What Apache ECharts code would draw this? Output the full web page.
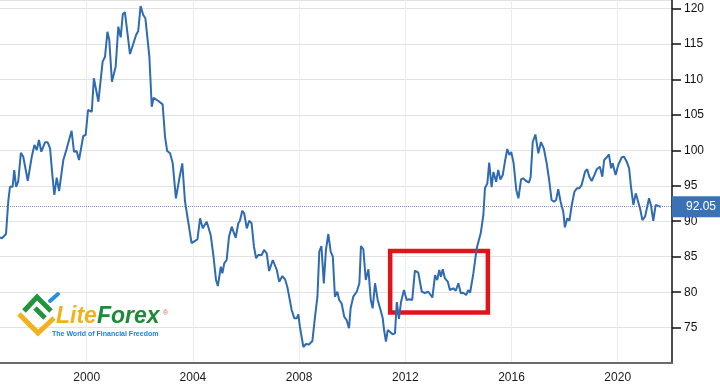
<!DOCTYPE html>
<html>
<head>
<meta charset="utf-8">
<style>
html,body{margin:0;padding:0;background:#fff;}
#chart{width:720px;height:388px;}
</style>
<script src="https://cdn.jsdelivr.net/npm/echarts@6/dist/echarts.min.js"></script>
</head>
<body>
<div id="chart"></div>
<script>
// Decimal years of the traced points
var years = [
1996.73,1996.81,1996.96,1997.05,1997.11,1997.21,1997.27,1997.34,1997.42,1997.52,
1997.61,1997.78,1997.93,1998.03,1998.12,1998.20,1998.29,1998.43,1998.53,1998.62,
1998.70,1998.78,1998.87,1998.96,1999.12,1999.25,1999.43,1999.52,1999.62,1999.71,
1999.78,1999.87,1999.96,2000.05,2000.12,2000.19,2000.27,2000.44,2000.60,2000.69,
2000.78,2000.85,2000.95,2001.09,2001.19,2001.28,2001.36,2001.44,2001.63,2001.69,
2001.86,2001.94,2002.03,2002.13,2002.21,2002.36,2002.45,2002.52,2002.70,2002.86,
2002.95,2003.03,2003.14,2003.24,2003.36,2003.49,2003.60,2003.70,2003.77,2003.95,
2004.17,2004.27,2004.37,2004.43,2004.52,2004.67,2004.77,2004.87,2004.94,2005.05,
2005.11,2005.18,2005.27,2005.36,2005.46,2005.52,2005.61,2005.71,2005.77,2005.86,
2005.93,2006.03,2006.12,2006.21,2006.30,2006.38,2006.46,2006.59,2006.68,2006.78,
2006.87,2007.01,2007.16,2007.25,2007.37,2007.47,2007.56,2007.63,2007.72,2007.82,
2007.91,2007.97,2008.03,2008.16,2008.26,2008.37,2008.50,2008.60,2008.69,2008.76,
2008.84,2008.93,2009.01,2009.10,2009.19,2009.27,2009.35,2009.44,2009.51,2009.60,
2009.70,2009.79,2009.88,2009.94,2010.04,2010.17,2010.27,2010.33,2010.42,2010.51,
2010.61,2010.70,2010.77,2010.86,2010.96,2011.05,2011.15,2011.20,2011.27,2011.34,
2011.42,2011.52,2011.61,2011.68,2011.76,2011.84,2011.95,2012.05,2012.15,2012.26,
2012.36,2012.49,2012.62,2012.74,2012.87,2013.02,2013.12,2013.20,2013.28,2013.34,
2013.41,2013.49,2013.60,2013.68,2013.81,2013.90,2014.00,2014.09,2014.18,2014.29,
2014.37,2014.44,2014.56,2014.69,2014.84,2014.94,2015.00,2015.09,2015.16,2015.25,
2015.32,2015.42,2015.50,2015.58,2015.67,2015.75,2015.84,2015.92,2015.99,2016.08,
2016.18,2016.26,2016.36,2016.44,2016.55,2016.66,2016.72,2016.80,2016.90,2017.01,
2017.11,2017.22,2017.33,2017.42,2017.51,2017.60,2017.68,2017.76,2017.85,2017.95,
2018.01,2018.10,2018.18,2018.27,2018.37,2018.46,2018.55,2018.64,2018.70,2018.77,
2018.85,2018.93,2019.02,2019.12,2019.21,2019.33,2019.42,2019.49,2019.59,2019.67,
2019.75,2019.81,2019.92,2020.02,2020.15,2020.24,2020.34,2020.43,2020.50,2020.59,
2020.68,2020.75,2020.84,2020.93,2021.03,2021.09,2021.18,2021.25,2021.34,2021.43,
2021.53,2021.63
];
// Index values
var values = [
87.71,87.60,88.20,92.99,94.86,94.86,97.22,94.86,95.57,99.65,
99.09,95.71,99.09,100.74,100.04,101.44,99.80,101.12,101.12,100.27,
96.75,93.70,96.13,94.26,98.63,100.27,102.75,99.80,99.89,98.63,
98.87,102.01,102.15,105.67,105.77,105.43,110.14,106.84,112.48,113.18,
116.70,115.53,109.66,111.77,117.41,115.91,119.20,119.44,113.56,113.56,
116.24,116.80,120.32,119.05,118.59,113.18,106.14,107.40,106.94,106.47,
101.91,99.89,99.57,98.16,93.23,96.05,98.16,92.85,92.75,86.93,
87.45,90.41,89.00,88.86,89.93,88.06,85.24,81.72,80.87,83.59,
82.66,84.07,84.54,87.82,89.23,89.33,87.68,89.71,90.07,91.48,
91.12,89.00,90.07,89.71,86.41,84.78,85.24,85.24,85.95,85.48,
82.99,84.54,83.13,81.48,82.28,81.82,80.69,80.78,77.49,76.32,
76.32,76.89,75.14,72.28,72.70,72.63,73.13,76.55,79.37,85.71,
86.51,81.23,85.95,88.20,85.71,85.00,79.37,80.07,78.90,78.44,
76.55,76.08,74.92,77.73,79.37,80.07,81.26,86.51,86.05,81.72,
83.23,78.90,77.73,81.26,78.90,77.73,76.32,74.68,73.03,74.68,
74.44,74.07,74.21,78.62,76.23,78.66,80.31,78.90,79.00,78.90,
83.03,82.75,80.07,79.89,80.07,79.25,82.42,81.72,83.13,82.19,
83.23,81.96,81.48,80.31,80.55,80.21,81.26,79.85,79.93,79.61,
80.31,79.93,82.57,86.19,88.30,90.88,94.64,95.34,98.25,94.82,
96.94,95.57,97.22,95.88,96.51,98.34,100.18,99.33,99.75,98.16,
94.40,93.23,95.91,96.05,95.67,95.46,96.23,101.16,102.22,99.57,
101.16,100.22,98.06,95.74,92.99,92.75,92.99,94.50,92.75,91.34,
89.14,90.41,90.07,92.29,94.16,94.64,94.64,95.10,95.34,96.98,
97.32,96.27,95.67,96.51,97.32,97.68,96.27,98.63,99.01,99.43,
97.46,98.16,96.51,97.92,99.01,99.09,98.39,97.46,94.86,92.29,
93.93,94.02,91.82,90.17,90.64,90.64,93.23,92.29,90.07,92.29,
92.15,92.05
];
var xTicks = [2000, 2004, 2008, 2012, 2016, 2020];
var lastValue = 92.05;
var lastLabel = '92.05';
// Highlighted period box (years, index values)
var boxFrom = [2011.43, 85.81];
var boxTo = [2015.11, 77.14];
// Axis ranges
var xMin = 1996.734, xMax = 2022.045;
var yMin = 70, yMax = 121.17, yStep = 5;
var logoText1 = 'Lite', logoText2 = 'Forex', logoTagline = 'The World of Financial Freedom';

var data = years.map(function (y, i) { return [y, values[i]]; });
var FONT = '"Liberation Sans", Arial, Helvetica, sans-serif';

var chart = echarts.init(document.getElementById('chart'), null, {renderer: 'canvas'});
chart.setOption({
  animation: false,
  backgroundColor: '#ffffff',
  grid: {left: 0, right: 48, top: 0, bottom: 24.8, containLabel: false},
  xAxis: {
    type: 'value', min: xMin, max: xMax,
    axisLine: {show: true, lineStyle: {color: '#6b6b6b', width: 2}},
    axisTick: {show: false, customValues: xTicks},
    axisLabel: {show: true, color: '#1a1a1a', fontSize: 12, fontFamily: FONT, margin: 8,
      customValues: xTicks, formatter: function (v) { return String(v); }},
    splitLine: {show: true, lineStyle: {color: '#ececec', width: 1}}
  },
  yAxis: {
    type: 'value', position: 'right', min: yMin, max: yMax, interval: yStep,
    axisLine: {show: true, lineStyle: {color: '#111', width: 1.5}},
    axisTick: {show: true, length: 9, inside: false, lineStyle: {color: '#111', width: 1.5}},
    axisLabel: {show: true, color: '#111', fontSize: 12, fontFamily: FONT, margin: 12,
      showMinLabel: false, showMaxLabel: false},
    splitLine: {show: true, lineStyle: {color: '#e2e2e2', width: 1}}
  },
  series: [{
    type: 'line',
    data: data,
    showSymbol: false,
    symbol: 'none',
    lineStyle: {color: '#2f6bb3', width: 2},
    itemStyle: {color: '#2f6bb3'},
    markLine: {
      silent: true,
      symbol: 'none',
      lineStyle: {color: '#6f95c4', type: 'dotted', width: 1},
      label: {
        show: true, position: 'end', distance: 0, formatter: lastLabel,
        color: '#ffffff', fontSize: 12, fontFamily: FONT,
        backgroundColor: '#3b72b6', padding: [4, 6, 4, 14], lineHeight: 13
      },
      data: [{yAxis: lastValue}]
    },
    markArea: {
      silent: true,
      itemStyle: {color: 'rgba(0,0,0,0)', borderColor: '#e2141b', borderWidth: 4.5},
      data: [[{coord: boxFrom}, {coord: boxTo}]]
    }
  }],
  graphic: [
    {type: 'polyline', shape: {points: [[19, 314], [38, 333], [54, 318]]},
     style: {stroke: '#f0b21e', lineWidth: 5, fill: null, lineJoin: 'miter'}, z: 10},
    {type: 'polyline', shape: {points: [[24, 311], [37, 297], [51, 311]]},
     style: {stroke: '#23943b', lineWidth: 5, fill: null}, z: 10},
    {type: 'line', shape: {x1: 35, y1: 308, x2: 45, y2: 318},
     style: {stroke: '#23943b', lineWidth: 5}, z: 10},
    {type: 'line', shape: {x1: 50, y1: 301, x2: 58, y2: 294},
     style: {stroke: '#2b8fe0', lineWidth: 4, lineCap: 'round'}, z: 10},
    {type: 'text', x: 56, y: 328, z: 10,
     style: {text: logoText1, font: 'italic bold 23px ' + FONT, fill: '#f0b21e', textVerticalAlign: 'bottom', textBaseline: 'bottom'}},
    {type: 'text', x: 97, y: 328, z: 10,
     style: {text: logoText2, font: 'italic bold 23px ' + FONT, fill: '#1f8a3a', textVerticalAlign: 'bottom', textBaseline: 'bottom'}},
    {type: 'text', x: 163, y: 310, z: 10,
     style: {text: '\u00ae', font: '7px ' + FONT, fill: '#e0606e'}},
    {type: 'text', x: 52, y: 331, z: 10,
     style: {text: logoTagline, font: 'bold 7px ' + FONT, fill: '#1f7fd4'}}
  ]
});
</script>
</body>
</html>
